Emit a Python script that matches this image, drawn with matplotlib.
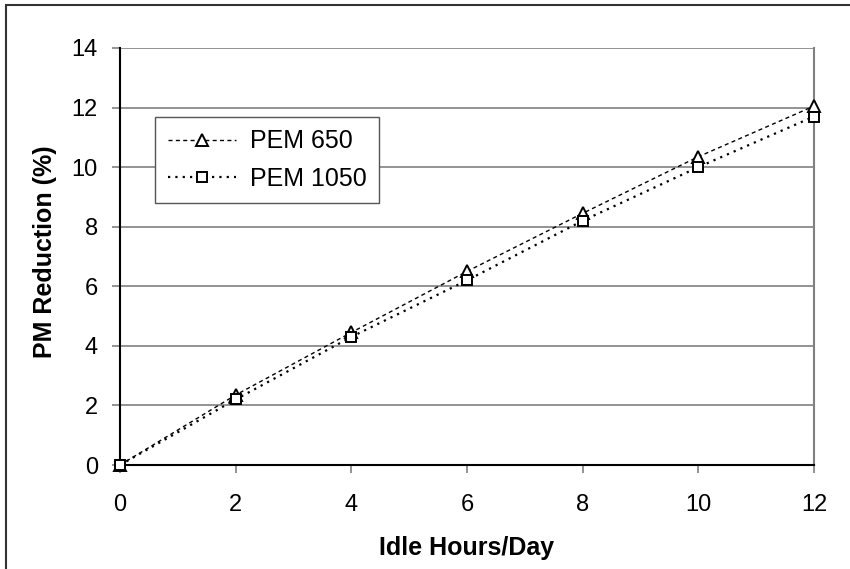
import matplotlib
matplotlib.use("Agg")
import matplotlib.pyplot as plt
from matplotlib.patches import Rectangle

idle_hours = [0, 2, 4, 6, 8, 10, 12]
pem650 = [0.0, 2.35, 4.45, 6.5, 8.45, 10.35, 12.05]
pem1050 = [0.0, 2.2, 4.3, 6.2, 8.2, 10.0, 11.7]
x_ticks = [0, 2, 4, 6, 8, 10, 12]
y_ticks = [0, 2, 4, 6, 8, 10, 12, 14]

plt.rcParams['font.family'] = ['Liberation Sans', 'DejaVu Sans']

fig = plt.figure(figsize=(8.5, 5.69), dpi=100)
ax = fig.add_axes([120 / 850, 1 - 465 / 569, (814 - 120) / 850, (465 - 48) / 569])

# outer frame of the figure (right and bottom edges fall outside the image)
fig.patches.append(Rectangle((6 / 850, -0.05), 1.2, 1 - 5 / 569 + 0.05,
                             transform=fig.transFigure, fill=False,
                             edgecolor='#333333', linewidth=1.5, zorder=0))

ax.plot(idle_hours, pem650, linestyle=(0, (2.9, 2.4)), color='black', linewidth=1.0,
        marker='^', markersize=8.5, markerfacecolor='white', markeredgecolor='black',
        markeredgewidth=1.4, label='PEM 650', clip_on=False, zorder=3)
ax.plot(idle_hours, pem1050, linestyle=(0, (1, 2.3)), color='black', linewidth=1.6,
        marker='s', markersize=7.5, markerfacecolor='white', markeredgecolor='black',
        markeredgewidth=1.4, label='PEM 1050', clip_on=False, zorder=3)

ax.set_xlim(0, 12)
ax.set_ylim(0, 14)
ax.set_xticks(x_ticks)
ax.set_yticks(y_ticks)
ax.grid(axis='y', color='#808080', linewidth=1.2)
ax.set_axisbelow(True)

for side in ('left', 'bottom'):
    ax.spines[side].set_color('black')
    ax.spines[side].set_linewidth(1.5)
ax.spines['right'].set_color('#808080')
ax.spines['right'].set_linewidth(1.5)
ax.spines['top'].set_visible(False)

ax.tick_params(axis='both', direction='out', length=6, width=1.2, color='#808080',
               labelsize=17)
ax.tick_params(axis='x', pad=15)
ax.tick_params(axis='y', pad=10)

ax.set_xlabel('Idle Hours/Day', fontsize=18, fontweight='bold')
ax.set_ylabel('PM Reduction (%)', fontsize=18, fontweight='bold')
ax.xaxis.set_label_coords(0.5, -0.170)
ax.yaxis.set_label_coords(-0.091, 0.511)

leg = ax.legend(loc='upper left', bbox_to_anchor=(35 / 694, 1 - 69 / 417),
                fontsize=18, frameon=True, fancybox=False, framealpha=1,
                edgecolor='#555555', handlelength=2.75, handletextpad=0.55,
                borderpad=0.5, labelspacing=0.52, borderaxespad=0)
leg.get_frame().set_linewidth(1.0)

fig.savefig('out.png', dpi=100)
